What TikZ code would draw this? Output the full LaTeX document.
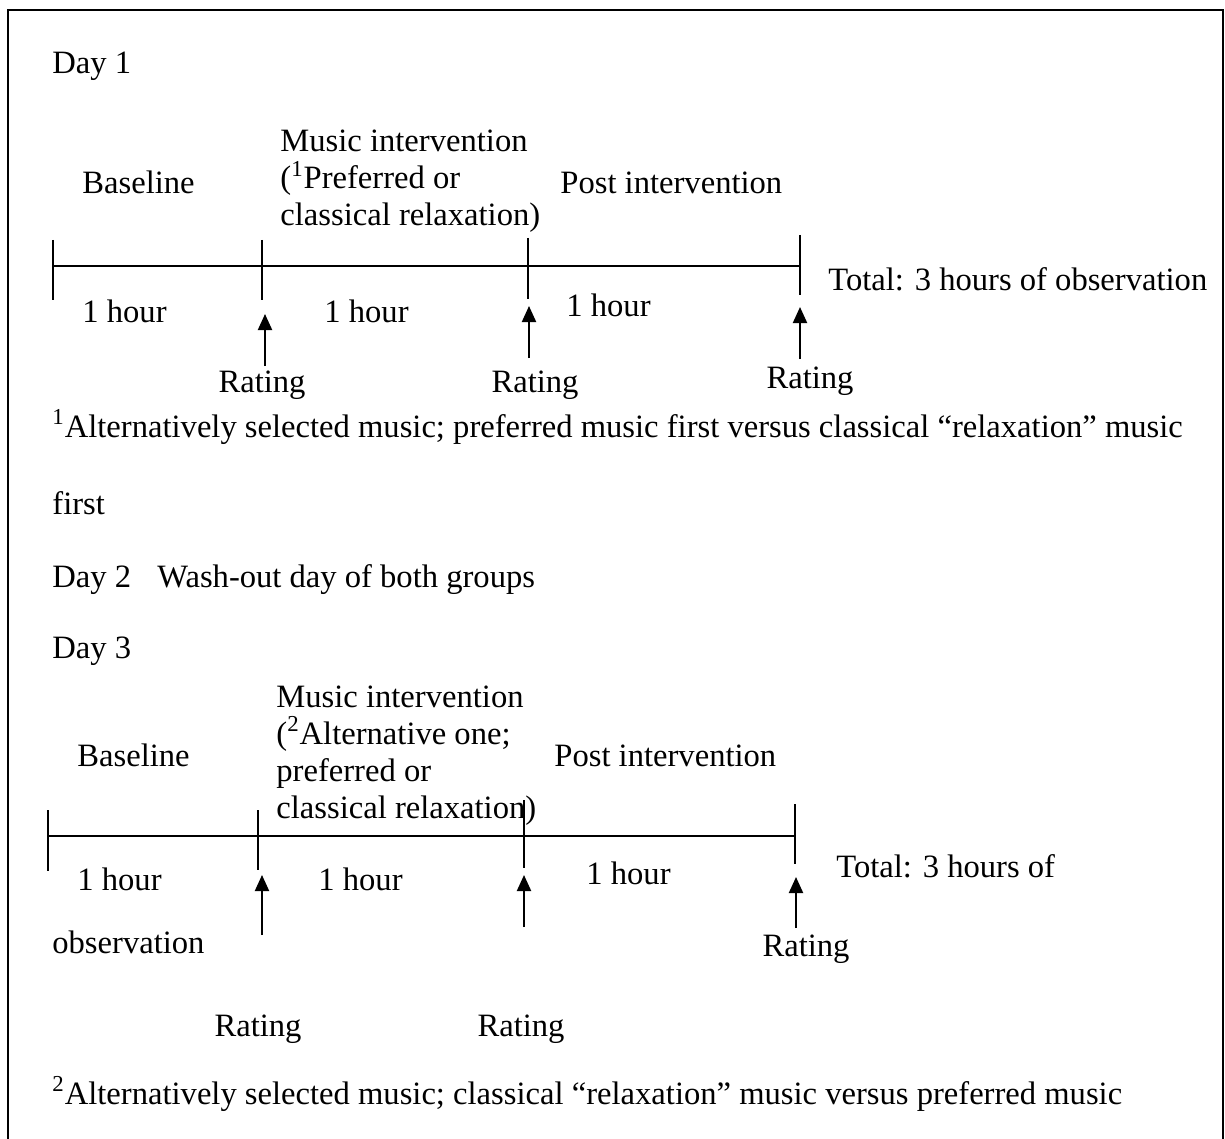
\documentclass[tikz,border=0pt]{standalone}
\usepackage{fontspec}
\setmainfont{Liberation Serif}
\usetikzlibrary{arrows.meta}
\begin{document}
\begin{tikzpicture}[x=0.5pt,y=-0.5pt,
	txt/.style={anchor=base west,inner sep=0pt,font=\fontsize{16.3}{18.5}\selectfont},
	rate/.style={anchor=base,inner sep=0pt,font=\fontsize{16.3}{18.5}\selectfont},
	axis/.style={line width=1.2pt},
	tickmark/.style={line width=0.9pt},
	up/.style={-{Triangle[width=7pt,length=8pt]},line width=1pt}]
	\useasboundingbox (0,0) rectangle (1225,1139);
	\draw[line width=1.3pt] (8,1150) -- (8,10) -- (1223,10) -- (1223,1150);

	% day 1 (multi-line nodes sit on their last line)
	\node[txt] (day1) at (52,74) {Day 1};
	\node[txt] (base1) at (82,194) {Baseline};
	\node[txt,align=left] (music1) at (280,226) {Music intervention\\(\textsuperscript{1}Preferred or\\classical relaxation)};
	\node[txt] (post1) at (560,194) {Post intervention};
	\node[txt] (hour11) at (82,322) {1 hour};
	\node[txt] (hour12) at (324,322) {1 hour};
	\node[txt] (hour13) at (566,316) {1 hour};
	\node[txt] (total1) at (828,290) {Total: 3 hours of observation};
	\node[rate] (rate11) at (262,392) {Rating};
	\node[rate] (rate12) at (535,392) {Rating};
	\node[rate] (rate13) at (810,388) {Rating};

	\foreach \n/\x in {a/53,b/262,c/528,d/800}
		\coordinate (t1\n) at (\x,266);
	\draw[axis] (t1a) -- (t1d);
	\foreach \n/\x/\s/\e in {a/53/240/300,b/262/240/300,c/528/238/299,d/800/235/295}
		\draw[tickmark] (\x,\s) coordinate (k1\n) -- (\x,\e) coordinate (l1\n);

	\foreach \n/\x/\t/\h in {1/265/366/314,2/529/358/306,3/800/359/307}{
		\coordinate (tail1\n) at (\x,\t);
		\coordinate (tip1\n) at (\x,\h);
		\draw[up] (tail1\n) -- (tip1\n);
	}

	% footnote 1 and day 2
	\node[txt] (note1) at (52,437) {\textsuperscript{1}Alternatively selected music; preferred music first versus classical “relaxation” music};
	\node[txt] (note1b) at (52,514) {first};
	\node[txt] (day2) at (52,587) {Day 2};
	\node[txt] (wash) at (157,587) {Wash-out day of both groups};

	% day 3
	\node[txt] (day3) at (52,658) {Day 3};
	\node[txt] (base3) at (77,766) {Baseline};
	\node[txt,align=left] (music3) at (276,818) {Music intervention\\(\textsuperscript{2}Alternative one;\\preferred or\\classical relaxation)};
	\node[txt] (post3) at (554,766) {Post intervention};
	\node[txt] (hour31) at (77,890) {1 hour};
	\node[txt] (hour32) at (318,890) {1 hour};
	\node[txt] (hour33) at (586,884) {1 hour};
	\node[txt] (total3) at (836,877) {Total: 3 hours of};
	\node[txt] (obs3) at (52,953) {observation};
	\node[rate] (rate33) at (806,956) {Rating};
	\node[rate] (rate31) at (258,1036) {Rating};
	\node[rate] (rate32) at (521,1036) {Rating};

	\foreach \n/\x in {a/48,b/258,c/524,d/795}
		\coordinate (t3\n) at (\x,836);
	\draw[axis] (t3a) -- (t3d);
	\foreach \n/\x/\s/\e in {a/48/810/871,b/258/810/870,c/524/800/868,d/795/804/864}
		\draw[tickmark] (\x,\s) coordinate (k3\n) -- (\x,\e) coordinate (l3\n);

	\foreach \n/\x/\t/\h in {1/262/935/875,2/524/927/875,3/796/928/877}{
		\coordinate (tail3\n) at (\x,\t);
		\coordinate (tip3\n) at (\x,\h);
		\draw[up] (tail3\n) -- (tip3\n);
	}

	% footnote 2
	\node[txt] (note2) at (52,1104) {\textsuperscript{2}Alternatively selected music; classical “relaxation” music versus preferred music};
\end{tikzpicture}
\end{document}
